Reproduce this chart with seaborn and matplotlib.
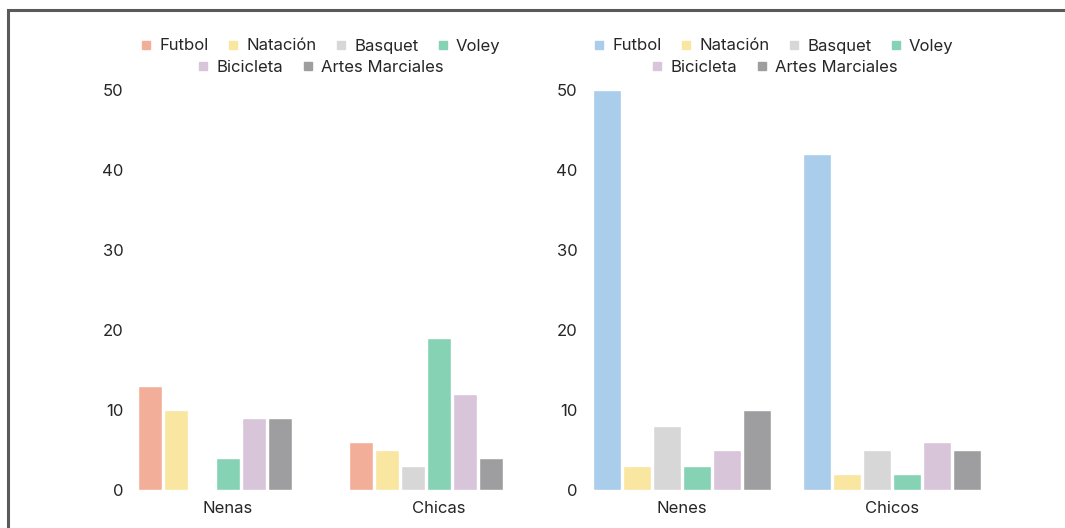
import matplotlib
matplotlib.use("Agg")
import matplotlib.pyplot as plt
from matplotlib.lines import Line2D
from matplotlib.patches import Rectangle
from matplotlib.transforms import ScaledTranslation
import pandas as pd
import seaborn as sns

# ── data ──────────────────────────────────────────────────────────────────────
deportes = ["Futbol", "Natación", "Basquet", "Voley", "Bicicleta", "Artes Marciales"]

grupos_izq = ["Nenas", "Chicas"]
nenas = [13, 10, 0, 4, 9, 9]
chicas = [6, 5, 3, 19, 12, 4]

grupos_der = ["Nenes", "Chicos"]
nenes = [50, 3, 8, 3, 5, 10]
chicos = [42, 2, 5, 2, 6, 5]

yticks = [0, 10, 20, 30, 40, 50]

# ── style ─────────────────────────────────────────────────────────────────────
sns.set_style("white")
plt.rcParams["font.family"] = ["Inter", "DejaVu Sans"]
TXT = "#262626"
FS = 12
pal_izq = ["#F3AE99", "#F9E6A0", "#D8D7D8", "#86D2B4", "#D8C5DA", "#9E9EA0"]
pal_der = ["#AACDEC", "#F9E6A0", "#D8D7D8", "#86D2B4", "#D8C5DA", "#9E9EA0"]


def to_long(grupos, series):
    rows = []
    for g, vals in zip(grupos, series):
        for d, v in zip(deportes, vals):
            rows.append({"grupo": g, "deporte": d, "valor": v})
    return pd.DataFrame(rows)


W, H = 1065, 528
fig = plt.figure(figsize=(W / 100, H / 100), dpi=100)


def px_axes(x0, x1, y0, y1):
    return fig.add_axes([x0 / W, 1 - y1 / H, (x1 - x0) / W, (y1 - y0) / H])


def draw(ax, df, pal, width, xlim):
    sns.barplot(data=df, x="grupo", y="valor", hue="deporte", hue_order=deportes,
                palette=pal, width=width, gap=0.08, legend=False, ax=ax,
                saturation=1)
    ax.set_ylim(0, 50)
    ax.set_xlim(*xlim)
    ax.set_yticks(yticks)
    ax.set_xlabel("")
    ax.set_ylabel("")
    sns.despine(ax=ax, left=True, bottom=True)
    ax.tick_params(axis="y", length=0, pad=4.5, labelsize=FS, labelcolor=TXT)
    ax.tick_params(axis="x", length=0, pad=8, labelsize=FS, labelcolor=TXT)


ax1 = px_axes(130, 520, 90, 490)
draw(ax1, to_long(grupos_izq, [nenas, chicas]), pal_izq, 0.74, (-0.403, 1.445))
for lbl in ax1.get_xticklabels():
    lbl.set_transform(lbl.get_transform() + ScaledTranslation(0.13, 0, fig.dpi_scale_trans))

ax2 = px_axes(584, 990, 90, 490)
draw(ax2, to_long(grupos_der, [nenes, chicos]), pal_der, 0.857, (-0.467, 1.467))


# ── legends (two centered rows each) ─────────────────────────────────────────
def legend_row(items, pal, cx, cy):
    handles = [Line2D([], [], ls="", marker="s", markersize=6, color=pal[deportes.index(d)])
               for d in items]
    leg = fig.legend(handles, items, loc="center", bbox_to_anchor=(cx / W, 1 - cy / H),
                     bbox_transform=fig.transFigure, ncol=len(items), frameon=False,
                     fontsize=FS, handlelength=0.6, handletextpad=0.5,
                     columnspacing=1.15, borderpad=0, labelcolor=TXT)
    return leg


legend_row(deportes[:4], pal_izq, 321, 46)
legend_row(deportes[4:], pal_izq, 321, 67)
legend_row(deportes[:4], pal_der, 774, 46)
legend_row(deportes[4:], pal_der, 775, 67)

# outer frame
fig.add_artist(Rectangle((8 / W, -0.1), 1.2, 1 - 10 / H + 0.1, transform=fig.transFigure,
                         fill=False, ec="#5a5a5a", lw=2.2))

plt.savefig("out.png", dpi=100)
